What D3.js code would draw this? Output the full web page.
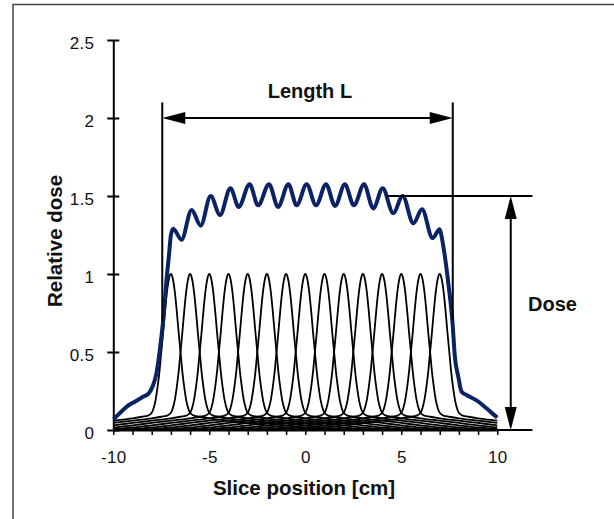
<!DOCTYPE html>
<html>
<head>
<meta charset="utf-8">
<script src="https://cdn.jsdelivr.net/npm/d3@7"></script>
<style>
  body { margin: 0; background: #fff; }
  text { font-family: "Liberation Sans", Arial, sans-serif; fill: #111; }
</style>
</head>
<body>
<svg id="chart" width="614" height="519"></svg>
<script>
// axis ticks
const xTickValues = [-10, -9, -8, -7, -6, -5, -4, -3, -2, -1, 0, 1, 2, 3, 4, 5, 6, 7, 8, 9, 10];
const xTickLabels = [-10, -5, 0, 5, 10];
const yTickValues = [0, 0.5, 1, 1.5, 2, 2.5];

// centres of the single slice profiles
const sliceCenters = [-7, -6, -5, -4, -3, -2, -1, 0, 1, 2, 3, 4, 5, 6, 7];

// one slice profile (one side, distance from centre -> relative dose)
const profileOffsets = [0, 0.1, 0.2, 0.3, 0.4, 0.5, 0.6, 0.7, 0.8, 0.9, 1.0, 1.2, 1.5, 2, 3, 4, 5, 6, 7, 8, 17];
const profileDose    = [1, 0.97, 0.89, 0.77, 0.63, 0.5, 0.37, 0.27, 0.19, 0.14, 0.11, 0.092, 0.085, 0.075, 0.06, 0.045, 0.03, 0.016, 0.006, 0.001, 0];

// summed dose profile (blue line)
const sumX = [-10, -9.9, -9.6, -9.3, -8.9, -8.45, -8.15, -7.95, -7.75, -7.6, -7.4, -7.2, -7.1, -7.0, -6.88,
  -6.45, -5.92, -5.45, -4.93, -4.44, -3.9, -3.47, -2.9, -2.46, -1.89, -1.42, -0.88, -0.45, 0.07, 0.56,
  1.08, 1.55, 2.06, 2.53, 3.06, 3.54, 4.03, 4.58, 5.07, 5.63, 6.08, 6.63, 7.0, 7.1, 7.22, 7.45, 7.67,
  7.79, 7.97, 8.14, 8.4, 8.92, 9.44, 9.8, 10];
const sumDose = [0.07, 0.08, 0.115, 0.15, 0.18, 0.213, 0.235, 0.28, 0.365, 0.49, 0.705, 1.0, 1.12, 1.25, 1.29,
  1.22, 1.41, 1.31, 1.50, 1.378, 1.55, 1.43, 1.575, 1.44, 1.575, 1.43, 1.575, 1.44, 1.575, 1.44,
  1.575, 1.436, 1.575, 1.44, 1.575, 1.42, 1.55, 1.39, 1.50, 1.325, 1.415, 1.23, 1.287, 1.24, 1.154, 0.94, 0.684,
  0.47, 0.34, 0.245, 0.224, 0.19, 0.139, 0.1, 0.08];

// annotation positions (data units)
const lengthEdges = [-7.45, 7.68];
const lengthLineSpan = [0.7, 2.1];
const lengthArrowDose = 2;
const doseLevel = 1.5;
const doseLineStart = 4.25;
const doseArrowX = 10.7;
const annotEnd = 11.83;

const svg = d3.select("#chart");
const x = d3.scaleLinear().domain([-10, 10]).range([113.3, 497.3]);
const y = d3.scaleLinear().domain([0, 2.5]).range([430, 40]);

// frame
svg.append("rect")
  .attr("x", 13).attr("y", 4.5)
  .attr("width", 610).attr("height", 530)
  .attr("fill", "none").attr("stroke", "#444").attr("stroke-width", 1.5);

// clip for the profiles
svg.append("clipPath").attr("id", "plotclip")
  .append("rect")
  .attr("x", x(-10)).attr("y", 0)
  .attr("width", x(10) - x(-10)).attr("height", 519);

const line = d3.line()
  .x(d => x(d[0]))
  .y(d => y(d[1]))
  .curve(d3.curveMonotoneX);

const profiles = sliceCenters.map(c => {
  const left = profileOffsets.slice(1).map((o, i) => [c - o, profileDose[i + 1]]).reverse();
  const right = profileOffsets.map((o, i) => [c + o, profileDose[i]]);
  return left.concat(right);
});

svg.append("g")
  .attr("clip-path", "url(#plotclip)")
  .selectAll("path")
  .data(profiles)
  .join("path")
  .attr("d", line)
  .attr("fill", "none")
  .attr("stroke", "#000")
  .attr("stroke-width", 1.8);

// axes
const yAxis = svg.append("g")
  .attr("transform", `translate(${x(-10)},0)`)
  .call(d3.axisLeft(y).tickValues(yTickValues).tickSize(6).tickSizeOuter(0).tickFormat(d => String(d)));
yAxis.select(".domain").attr("stroke", "#000").attr("stroke-width", 2);
yAxis.selectAll(".tick line").attr("x1", 6).attr("x2", -6).attr("stroke", "#000").attr("stroke-width", 2);
yAxis.selectAll(".tick text")
  .attr("x", -19).attr("dy", "0.48em")
  .attr("font-size", 17).attr("letter-spacing", "0.3px")
  .attr("font-family", null).attr("fill", "#111");

const xAxis = svg.append("g")
  .attr("transform", `translate(0,${y(0)})`)
  .call(d3.axisBottom(x).tickValues(xTickValues).tickSize(5).tickSizeOuter(0)
    .tickFormat(d => xTickLabels.includes(d) ? String(d) : ""));
xAxis.select(".domain").attr("stroke", "#000").attr("stroke-width", 2);
xAxis.selectAll(".tick line").attr("stroke", "#000").attr("stroke-width", 1.5);
xAxis.selectAll(".tick text")
  .attr("y", 20.5).attr("dy", "0.71em")
  .attr("font-size", 17).attr("letter-spacing", "0.3px")
  .attr("font-family", null).attr("fill", "#111");
svg.selectAll(".tick text").style("font-family", "'Liberation Sans', Arial, sans-serif");

// summed dose
svg.append("path")
  .datum(sumX.map((v, i) => [v, sumDose[i]]))
  .attr("d", line)
  .attr("fill", "none")
  .attr("stroke", "#0b2365")
  .attr("stroke-width", 4)
  .attr("stroke-linejoin", "round");

// annotations
function seg(x1, y1, x2, y2) {
  svg.append("line")
    .attr("x1", x1).attr("y1", y1).attr("x2", x2).attr("y2", y2)
    .attr("stroke", "#000").attr("stroke-width", 2);
}
function arrowHead(tx, ty, angle) {
  svg.append("path")
    .attr("d", "M0,0L-23,-6L-23,6Z")
    .attr("transform", `translate(${tx},${ty}) rotate(${angle})`)
    .attr("fill", "#000");
}

lengthEdges.forEach(e => seg(x(e), y(lengthLineSpan[0]), x(e), y(lengthLineSpan[1])));
seg(x(lengthEdges[0]) + 4, y(lengthArrowDose), x(lengthEdges[1]) - 4, y(lengthArrowDose));
arrowHead(x(lengthEdges[0]), y(lengthArrowDose), 180);
arrowHead(x(lengthEdges[1]), y(lengthArrowDose), 0);

seg(x(doseLineStart), y(doseLevel), x(annotEnd), y(doseLevel));
seg(x(10), y(0), x(annotEnd), y(0));
seg(x(doseArrowX), y(doseLevel) + 4, x(doseArrowX), y(0) - 4);
arrowHead(x(doseArrowX), y(doseLevel), -90);
arrowHead(x(doseArrowX), y(0), 90);

svg.append("text")
  .attr("x", x(0.24)).attr("y", 98)
  .attr("text-anchor", "middle")
  .attr("font-size", 20).attr("font-weight", "bold")
  .text("Length L");

svg.append("text")
  .attr("x", 552.5).attr("y", 311)
  .attr("text-anchor", "middle")
  .attr("font-size", 20).attr("font-weight", "bold")
  .text("Dose");

// axis titles
svg.append("text")
  .attr("x", 304).attr("y", 495)
  .attr("text-anchor", "middle")
  .attr("font-size", 20.5).attr("font-weight", "bold")
  .text("Slice position [cm]");

svg.append("text")
  .attr("transform", "translate(62,241) rotate(-90)")
  .attr("text-anchor", "middle")
  .attr("font-size", 20.5).attr("font-weight", "bold")
  .text("Relative dose");
</script>
</body>
</html>
